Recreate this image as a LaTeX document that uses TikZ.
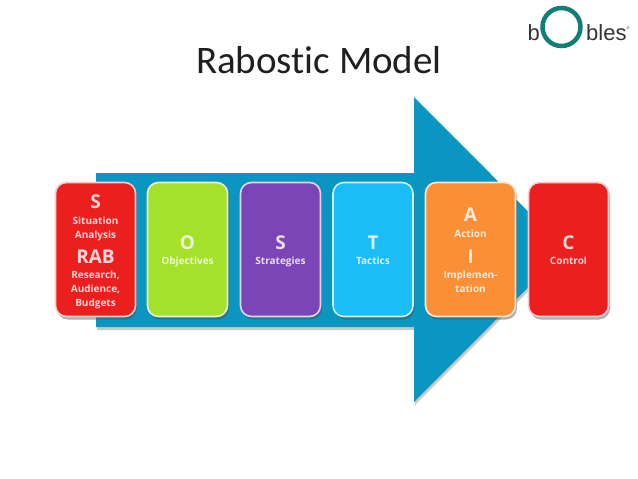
\documentclass[tikz,border=0pt]{standalone}
\usepackage{fontspec}
\setmainfont{Open Sans}
\newfontfamily\titlefont[Ligatures={NoCommon,NoContextual}]{Carlito}
\newfontfamily\logofont{Liberation Sans}
\usetikzlibrary{shadows}
\definecolor{arrowblue}{HTML}{0B96C2}
\definecolor{cred}{HTML}{EC1F1F}
\definecolor{cgreen}{HTML}{A5E02A}
\definecolor{cpurple}{HTML}{7B45B8}
\definecolor{ccyan}{HTML}{1ABDF5}
\definecolor{corange}{HTML}{FB8F35}
\definecolor{ringteal}{HTML}{0F7F78}
\newcommand{\hd}[1]{{\fontsize{19}{14}\selectfont\bfseries #1}}
\newcommand{\sm}[1]{{\fontsize{10}{14}\selectfont\bfseries #1}}
\newcommand{\topgap}[1]{\rule{0pt}{#1pt}}
\tikzset{
  card/.style={draw=#1!22!white, fill=#1, line width=1.6pt, rounded corners=11pt,
    minimum height=134pt, inner sep=0pt, align=center, text=white!82!#1,
    font=\fontsize{10}{14}\selectfont,
    drop shadow={shadow xshift=1.5pt, shadow yshift=-3pt, opacity=.45, fill=black!70}},
  cardw/.style={minimum width=80pt},
  head/.style={fill=arrowblue, draw=none, drop shadow={shadow xshift=1pt, shadow yshift=-3pt, opacity=.35, fill=black!60}},
}
\begin{document}
\begin{tikzpicture}[x=1pt,y=-1pt]
\useasboundingbox (0,0) rectangle (638,479);
\fill[white] (0,0) rectangle (638,479);
\node[anchor=base, inner sep=0pt, text=black!88] (title) at (319,73) {\titlefont\fontsize{39}{44}\selectfont Rabostic Model};
\path[head] (96,173) -- (414,173) -- (414,97) -- (566,249.5) -- (414,402) -- (414,327) -- (96,327) -- cycle;
\node[card=cred, cardw] (s1) at (95.5,249.5) {\topgap{18}\hd{S}\\[2pt]\sm{Situation}\\\sm{Analysis}\\[8pt]\hd{RAB}\\[1pt]\sm{Research,}\\\sm{Audience,}\\\sm{Budgets}};
\node[card=cgreen, cardw] (o) at (187.5,249.5) {\topgap{18}\hd{O}\\[1pt]\sm{Objectives}};
\node[card=cpurple, cardw] (s2) at (280.5,249.5) {\topgap{18}\hd{S}\\[1pt]\sm{Strategies}};
\node[card=ccyan, cardw] (t) at (373,249.5) {\topgap{16}\hd{T}\\[1pt]\sm{Tactics}};
\node[card=corange, minimum width=90pt] (ai) at (470.5,249.5) {\topgap{15}\hd{A}\\[2pt]\sm{Action}\\[12pt]\hd{I}\\[1pt]\sm{Implemen-}\\\sm{tation}};
\node[card=cred, cardw] (c) at (568.5,249.5) {\topgap{16}\hd{C}\\[1pt]\sm{Control}};
\node[anchor=base west, inner sep=0pt, text=black!80] (lb) at (527.5,40) {\logofont\fontsize{22}{24}\selectfont b};
\node[draw=ringteal, line width=4.5pt, circle, minimum size=38pt, inner sep=0pt] (ring) at (561.5,27) {};
\node[anchor=base west, inner sep=0pt, text=black!80] (lbles) at (586,40) {\logofont\fontsize{22}{24}\selectfont bles\raisebox{11pt}{\fontsize{4}{4}\selectfont ®}};
\end{tikzpicture}
\end{document}
